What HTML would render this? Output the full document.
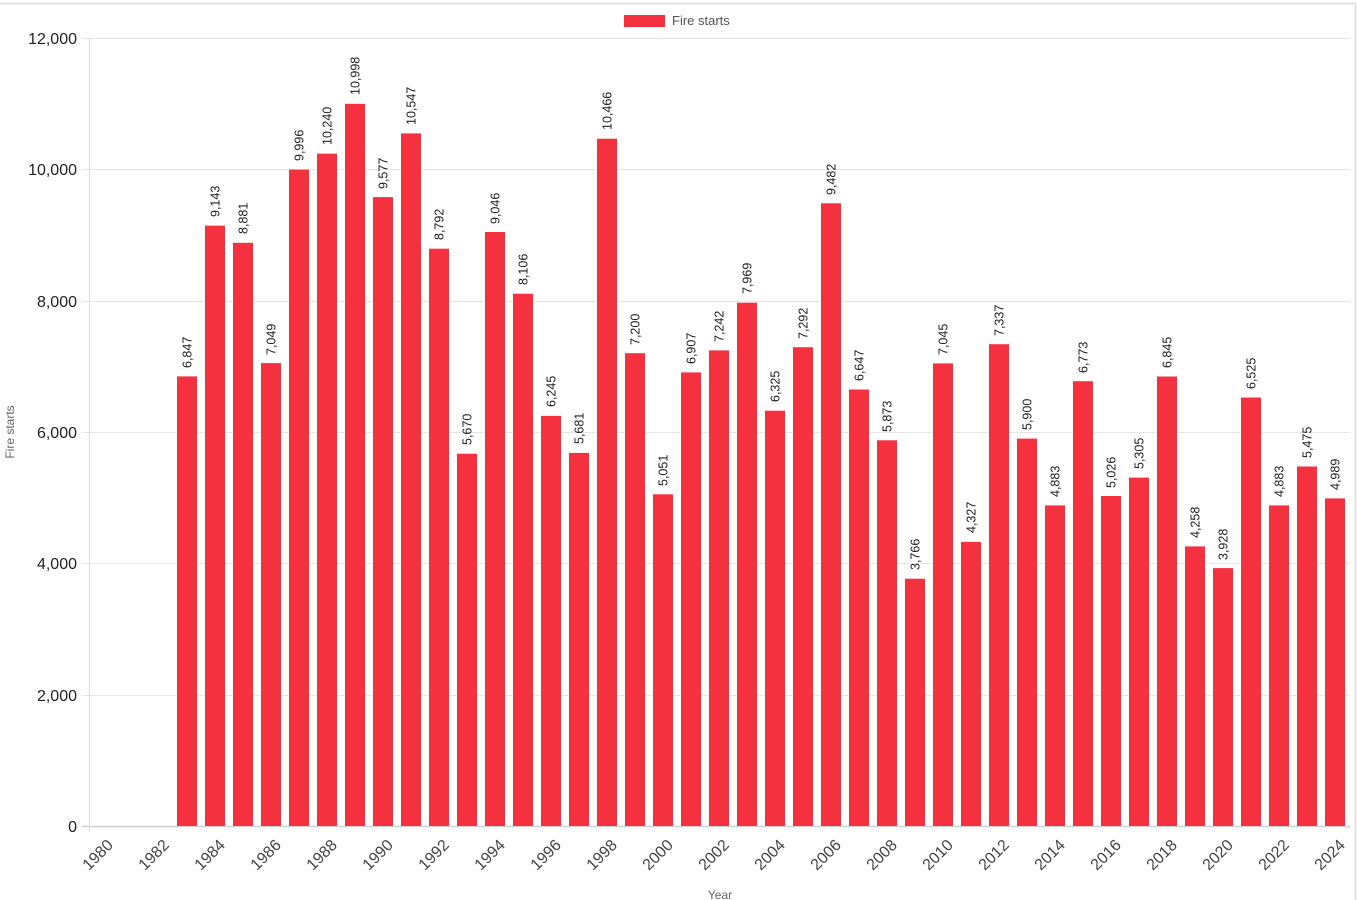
<!DOCTYPE html>
<html><head><meta charset="utf-8"><style>
html,body{margin:0;padding:0;background:#fff;}
svg{display:block;font-family:"Liberation Sans",Arial,sans-serif;}
</style></head><body>
<svg width="1357" height="900" viewBox="0 0 1357 900" xmlns="http://www.w3.org/2000/svg">
<rect x="0" y="0" width="1357" height="900" fill="#fff"/>
<line x1="0" y1="3.5" x2="1355" y2="3.5" stroke="#ddd" stroke-width="1.5"/>
<line x1="1355.5" y1="3" x2="1355.5" y2="900" stroke="#ddd" stroke-width="1.5"/>
<g stroke="#e6e6e6" stroke-width="1">
<line x1="82" y1="38.5" x2="1350" y2="38.5"/>
<line x1="82" y1="169.5" x2="1350" y2="169.5"/>
<line x1="82" y1="301.5" x2="1350" y2="301.5"/>
<line x1="82" y1="432.5" x2="1350" y2="432.5"/>
<line x1="82" y1="563.5" x2="1350" y2="563.5"/>
<line x1="82" y1="695.5" x2="1350" y2="695.5"/>
</g>
<line x1="82" y1="826.5" x2="1350" y2="826.5" stroke="#d0d0d0" stroke-width="1.5"/>
<line x1="89.5" y1="38" x2="89.5" y2="832" stroke="#dcdcdc" stroke-width="1"/>
<g font-size="16" fill="#222" text-anchor="end">
<text x="77" y="44">12,000</text>
<text x="77" y="175">10,000</text>
<text x="77" y="307">8,000</text>
<text x="77" y="438">6,000</text>
<text x="77" y="569">4,000</text>
<text x="77" y="701">2,000</text>
<text x="77" y="832">0</text>
</g>
<text transform="translate(14,432) rotate(-90)" font-size="12" fill="#666" text-anchor="middle">Fire starts</text>
<text x="720" y="899" font-size="12" fill="#666" text-anchor="middle">Year</text>
<rect x="624" y="15" width="41" height="12" fill="#f5313f"/>
<text x="672" y="25" font-size="13" fill="#555">Fire starts</text>
<g fill="#f5313f">
<rect x="177" y="376.4" width="20" height="449.6"/>
<rect x="205" y="225.6" width="20" height="600.4"/>
<rect x="233" y="242.8" width="20" height="583.2"/>
<rect x="261" y="363.1" width="20" height="462.9"/>
<rect x="289" y="169.6" width="20" height="656.4"/>
<rect x="317" y="153.6" width="20" height="672.4"/>
<rect x="345" y="103.8" width="20" height="722.2"/>
<rect x="373" y="197.1" width="20" height="628.9"/>
<rect x="401" y="133.4" width="20" height="692.6"/>
<rect x="429" y="248.7" width="20" height="577.3"/>
<rect x="457" y="453.7" width="20" height="372.3"/>
<rect x="485" y="232.0" width="20" height="594.0"/>
<rect x="513" y="293.7" width="20" height="532.3"/>
<rect x="541" y="415.9" width="20" height="410.1"/>
<rect x="569" y="452.9" width="20" height="373.1"/>
<rect x="597" y="138.7" width="20" height="687.3"/>
<rect x="625" y="353.2" width="20" height="472.8"/>
<rect x="653" y="494.3" width="20" height="331.7"/>
<rect x="681" y="372.4" width="20" height="453.6"/>
<rect x="709" y="350.4" width="20" height="475.6"/>
<rect x="737" y="302.7" width="20" height="523.3"/>
<rect x="765" y="410.7" width="20" height="415.3"/>
<rect x="793" y="347.2" width="20" height="478.8"/>
<rect x="821" y="203.3" width="20" height="622.7"/>
<rect x="849" y="389.5" width="20" height="436.5"/>
<rect x="877" y="440.3" width="20" height="385.7"/>
<rect x="905" y="578.7" width="20" height="247.3"/>
<rect x="933" y="363.4" width="20" height="462.6"/>
<rect x="961" y="541.9" width="20" height="284.1"/>
<rect x="989" y="344.2" width="20" height="481.8"/>
<rect x="1017" y="438.6" width="20" height="387.4"/>
<rect x="1045" y="505.4" width="20" height="320.6"/>
<rect x="1073" y="381.2" width="20" height="444.8"/>
<rect x="1101" y="496.0" width="20" height="330.0"/>
<rect x="1129" y="477.6" width="20" height="348.4"/>
<rect x="1157" y="376.5" width="20" height="449.5"/>
<rect x="1185" y="546.4" width="20" height="279.6"/>
<rect x="1213" y="568.1" width="20" height="257.9"/>
<rect x="1241" y="397.5" width="20" height="428.5"/>
<rect x="1269" y="505.4" width="20" height="320.6"/>
<rect x="1297" y="466.5" width="20" height="359.5"/>
<rect x="1325" y="498.4" width="20" height="327.6"/>
</g>
<g font-size="12.5" fill="#222">
<text transform="translate(191.5,368) rotate(-90)">6,847</text>
<text transform="translate(219.5,217) rotate(-90)">9,143</text>
<text transform="translate(247.5,234) rotate(-90)">8,881</text>
<text transform="translate(275.5,355) rotate(-90)">7,049</text>
<text transform="translate(303.5,161) rotate(-90)">9,996</text>
<text transform="translate(331.5,145) rotate(-90)">10,240</text>
<text transform="translate(359.5,95) rotate(-90)">10,998</text>
<text transform="translate(387.5,189) rotate(-90)">9,577</text>
<text transform="translate(415.5,125) rotate(-90)">10,547</text>
<text transform="translate(443.5,240) rotate(-90)">8,792</text>
<text transform="translate(471.5,445) rotate(-90)">5,670</text>
<text transform="translate(499.5,224) rotate(-90)">9,046</text>
<text transform="translate(527.5,285) rotate(-90)">8,106</text>
<text transform="translate(555.5,407) rotate(-90)">6,245</text>
<text transform="translate(583.5,444) rotate(-90)">5,681</text>
<text transform="translate(611.5,130) rotate(-90)">10,466</text>
<text transform="translate(639.5,345) rotate(-90)">7,200</text>
<text transform="translate(667.5,486) rotate(-90)">5,051</text>
<text transform="translate(695.5,364) rotate(-90)">6,907</text>
<text transform="translate(723.5,342) rotate(-90)">7,242</text>
<text transform="translate(751.5,294) rotate(-90)">7,969</text>
<text transform="translate(779.5,402) rotate(-90)">6,325</text>
<text transform="translate(807.5,339) rotate(-90)">7,292</text>
<text transform="translate(835.5,195) rotate(-90)">9,482</text>
<text transform="translate(863.5,381) rotate(-90)">6,647</text>
<text transform="translate(891.5,432) rotate(-90)">5,873</text>
<text transform="translate(919.5,570) rotate(-90)">3,766</text>
<text transform="translate(947.5,355) rotate(-90)">7,045</text>
<text transform="translate(975.5,533) rotate(-90)">4,327</text>
<text transform="translate(1003.5,336) rotate(-90)">7,337</text>
<text transform="translate(1031.5,430) rotate(-90)">5,900</text>
<text transform="translate(1059.5,497) rotate(-90)">4,883</text>
<text transform="translate(1087.5,373) rotate(-90)">6,773</text>
<text transform="translate(1115.5,488) rotate(-90)">5,026</text>
<text transform="translate(1143.5,469) rotate(-90)">5,305</text>
<text transform="translate(1171.5,368) rotate(-90)">6,845</text>
<text transform="translate(1199.5,538) rotate(-90)">4,258</text>
<text transform="translate(1227.5,560) rotate(-90)">3,928</text>
<text transform="translate(1255.5,389) rotate(-90)">6,525</text>
<text transform="translate(1283.5,497) rotate(-90)">4,883</text>
<text transform="translate(1311.5,458) rotate(-90)">5,475</text>
<text transform="translate(1339.5,490) rotate(-90)">4,989</text>
</g>
<g font-size="16" fill="#444" text-anchor="end">
<text transform="translate(114,846) rotate(-45)">1980</text>
<text transform="translate(170,846) rotate(-45)">1982</text>
<text transform="translate(226,846) rotate(-45)">1984</text>
<text transform="translate(282,846) rotate(-45)">1986</text>
<text transform="translate(338,846) rotate(-45)">1988</text>
<text transform="translate(394,846) rotate(-45)">1990</text>
<text transform="translate(450,846) rotate(-45)">1992</text>
<text transform="translate(506,846) rotate(-45)">1994</text>
<text transform="translate(562,846) rotate(-45)">1996</text>
<text transform="translate(618,846) rotate(-45)">1998</text>
<text transform="translate(674,846) rotate(-45)">2000</text>
<text transform="translate(730,846) rotate(-45)">2002</text>
<text transform="translate(786,846) rotate(-45)">2004</text>
<text transform="translate(842,846) rotate(-45)">2006</text>
<text transform="translate(898,846) rotate(-45)">2008</text>
<text transform="translate(954,846) rotate(-45)">2010</text>
<text transform="translate(1010,846) rotate(-45)">2012</text>
<text transform="translate(1066,846) rotate(-45)">2014</text>
<text transform="translate(1122,846) rotate(-45)">2016</text>
<text transform="translate(1178,846) rotate(-45)">2018</text>
<text transform="translate(1234,846) rotate(-45)">2020</text>
<text transform="translate(1290,846) rotate(-45)">2022</text>
<text transform="translate(1346,846) rotate(-45)">2024</text>
</g>
</svg>
</body></html>
